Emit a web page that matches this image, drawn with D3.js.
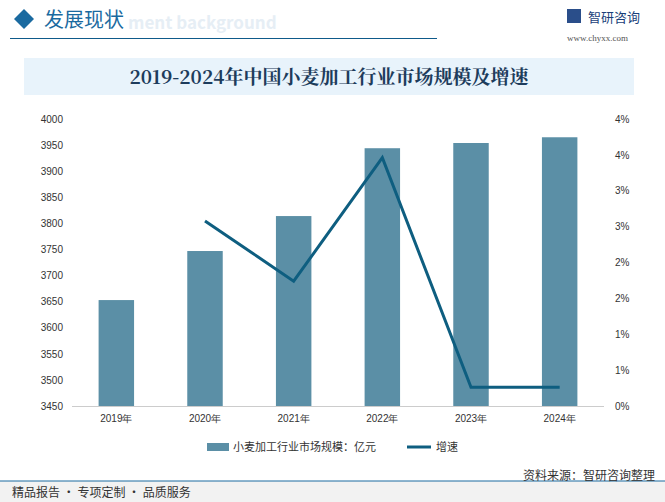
<!DOCTYPE html>
<html><head><meta charset="utf-8">
<script src="https://cdn.jsdelivr.net/npm/d3@7"></script>
<style>body{margin:0;background:#fff}svg{display:block;font-family:"Noto Sans CJK SC","Noto Sans",sans-serif}</style>
</head><body><svg id="c" width="665" height="502"></svg>
<script>
'use strict'
const years = ['2019年', '2020年', '2021年', '2022年', '2023年', '2024年']
const scale = [3653, 3747, 3814, 3944, 3954, 3965]
const growth = [null, 2.58, 1.74, 3.46, 0.26, 0.26]
const leftTicks = d3.range(3450, 4001, 50)
const rightTicks = d3.range(0, 4.01, 0.5)

const svg = d3.select('#c')
const blue = '#0e5a8a'

// header
svg.append('path').attr('d', 'M14,19 L24,9 L34,19 L24,29 Z').attr('fill', '#1a6aa0')
svg.append('text').attr('x', 128).attr('y', 29).attr('font-size', 17).attr('font-weight', 'bold')
    .attr('fill', '#e6eef5').text('ment background')
svg.append('text').attr('x', 44).attr('y', 27).attr('font-size', 20).attr('fill', '#1a6aa0').text('发展现状')
svg.append('line').attr('x1', 10).attr('x2', 437).attr('y1', 38.5).attr('y2', 38.5).attr('stroke', blue)
svg.append('rect').attr('x', 567).attr('y', 9).attr('width', 14).attr('height', 14).attr('fill', '#2a4e8a')
svg.append('text').attr('x', 588).attr('y', 22).attr('font-size', 13).attr('fill', '#1a3f7a').text('智研咨询')
svg.append('text').attr('x', 567).attr('y', 41).attr('font-size', 9).attr('fill', '#555')
    .attr('font-family', 'Liberation Serif').text('www.chyxx.com')
svg.append('rect').attr('x', 24).attr('y', 58).attr('width', 610).attr('height', 37).attr('fill', '#e8f3fb')
svg.append('text').attr('x', 329).attr('y', 84).attr('text-anchor', 'middle').attr('font-size', 19)
    .attr('font-weight', 'bold').attr('fill', '#1d3c5c').attr('font-family', '"Noto Serif CJK SC","Noto Sans CJK SC",serif')
    .text('2019-2024年中国小麦加工行业市场规模及增速')

// chart
const x = d3.scaleBand().domain(years).range([72, 604]).paddingInner(0.6).paddingOuter(0.3)
const yL = d3.scaleLinear().domain([3450, 4000]).range([406, 119])
const yR = d3.scaleLinear().domain([0, 4]).range([406, 119])

svg.append('line').attr('x1', 72).attr('x2', 604).attr('y1', 406.5).attr('y2', 406.5).attr('stroke', '#ccc')

const axL = svg.append('g').attr('transform', 'translate(66,0)')
    .call(d3.axisLeft(yL).tickValues(leftTicks).tickSize(0).tickFormat(d3.format('d')))
axL.select('.domain').remove()
axL.selectAll('text').attr('font-size', 10).attr('fill', '#333').attr('font-family', 'Liberation Sans')

const axR = svg.append('g').attr('transform', 'translate(612,0)')
    .call(d3.axisRight(yR).tickValues(rightTicks).tickSize(0).tickFormat(d => Math.round(d + 0.001) + '%'))
axR.select('.domain').remove()
axR.selectAll('text').attr('font-size', 10).attr('fill', '#333').attr('font-family', 'Liberation Sans')

const axX = svg.append('g').attr('transform', 'translate(0,406)')
    .call(d3.axisBottom(x).tickSize(0).tickPadding(9))
axX.select('.domain').remove()
axX.selectAll('text').attr('font-size', 10).attr('fill', '#333')

svg.append('g').selectAll('rect').data(scale).join('rect')
    .attr('x', (d, i) => x(years[i])).attr('width', x.bandwidth())
    .attr('y', d => yL(d)).attr('height', d => 406 - yL(d)).attr('fill', '#5b8fa6')

const line = d3.line().defined(d => d != null)
    .x((d, i) => x(years[i]) + x.bandwidth() / 2).y(d => yR(d))
svg.append('path').datum(growth).attr('d', line).attr('fill', 'none')
    .attr('stroke', '#0e5e80').attr('stroke-width', 3)

// legend
svg.append('rect').attr('x', 207).attr('y', 443).attr('width', 22).attr('height', 8).attr('fill', '#5b8fa6')
svg.append('text').attr('x', 233).attr('y', 451).attr('font-size', 11).attr('fill', '#333').text('小麦加工行业市场规模：亿元')
svg.append('line').attr('x1', 407).attr('x2', 431).attr('y1', 447).attr('y2', 447).attr('stroke', '#0e5e80').attr('stroke-width', 3)
svg.append('text').attr('x', 436).attr('y', 451).attr('font-size', 11).attr('fill', '#333').text('增速')

// footer
svg.append('rect').attr('x', 0).attr('y', 481).attr('width', 665).attr('height', 21).attr('fill', '#f2f2f2')
svg.append('line').attr('x1', 0).attr('x2', 665).attr('y1', 481).attr('y2', 481).attr('stroke', '#1a6aa0')
svg.append('text').attr('x', 12).attr('y', 497).attr('font-size', 12).attr('fill', '#333').text('精品报告 · 专项定制 · 品质服务')
svg.append('text').attr('x', 655).attr('y', 480).attr('text-anchor', 'end').attr('font-size', 12).attr('fill', '#333').text('资料来源：智研咨询整理')
</script></body></html>
